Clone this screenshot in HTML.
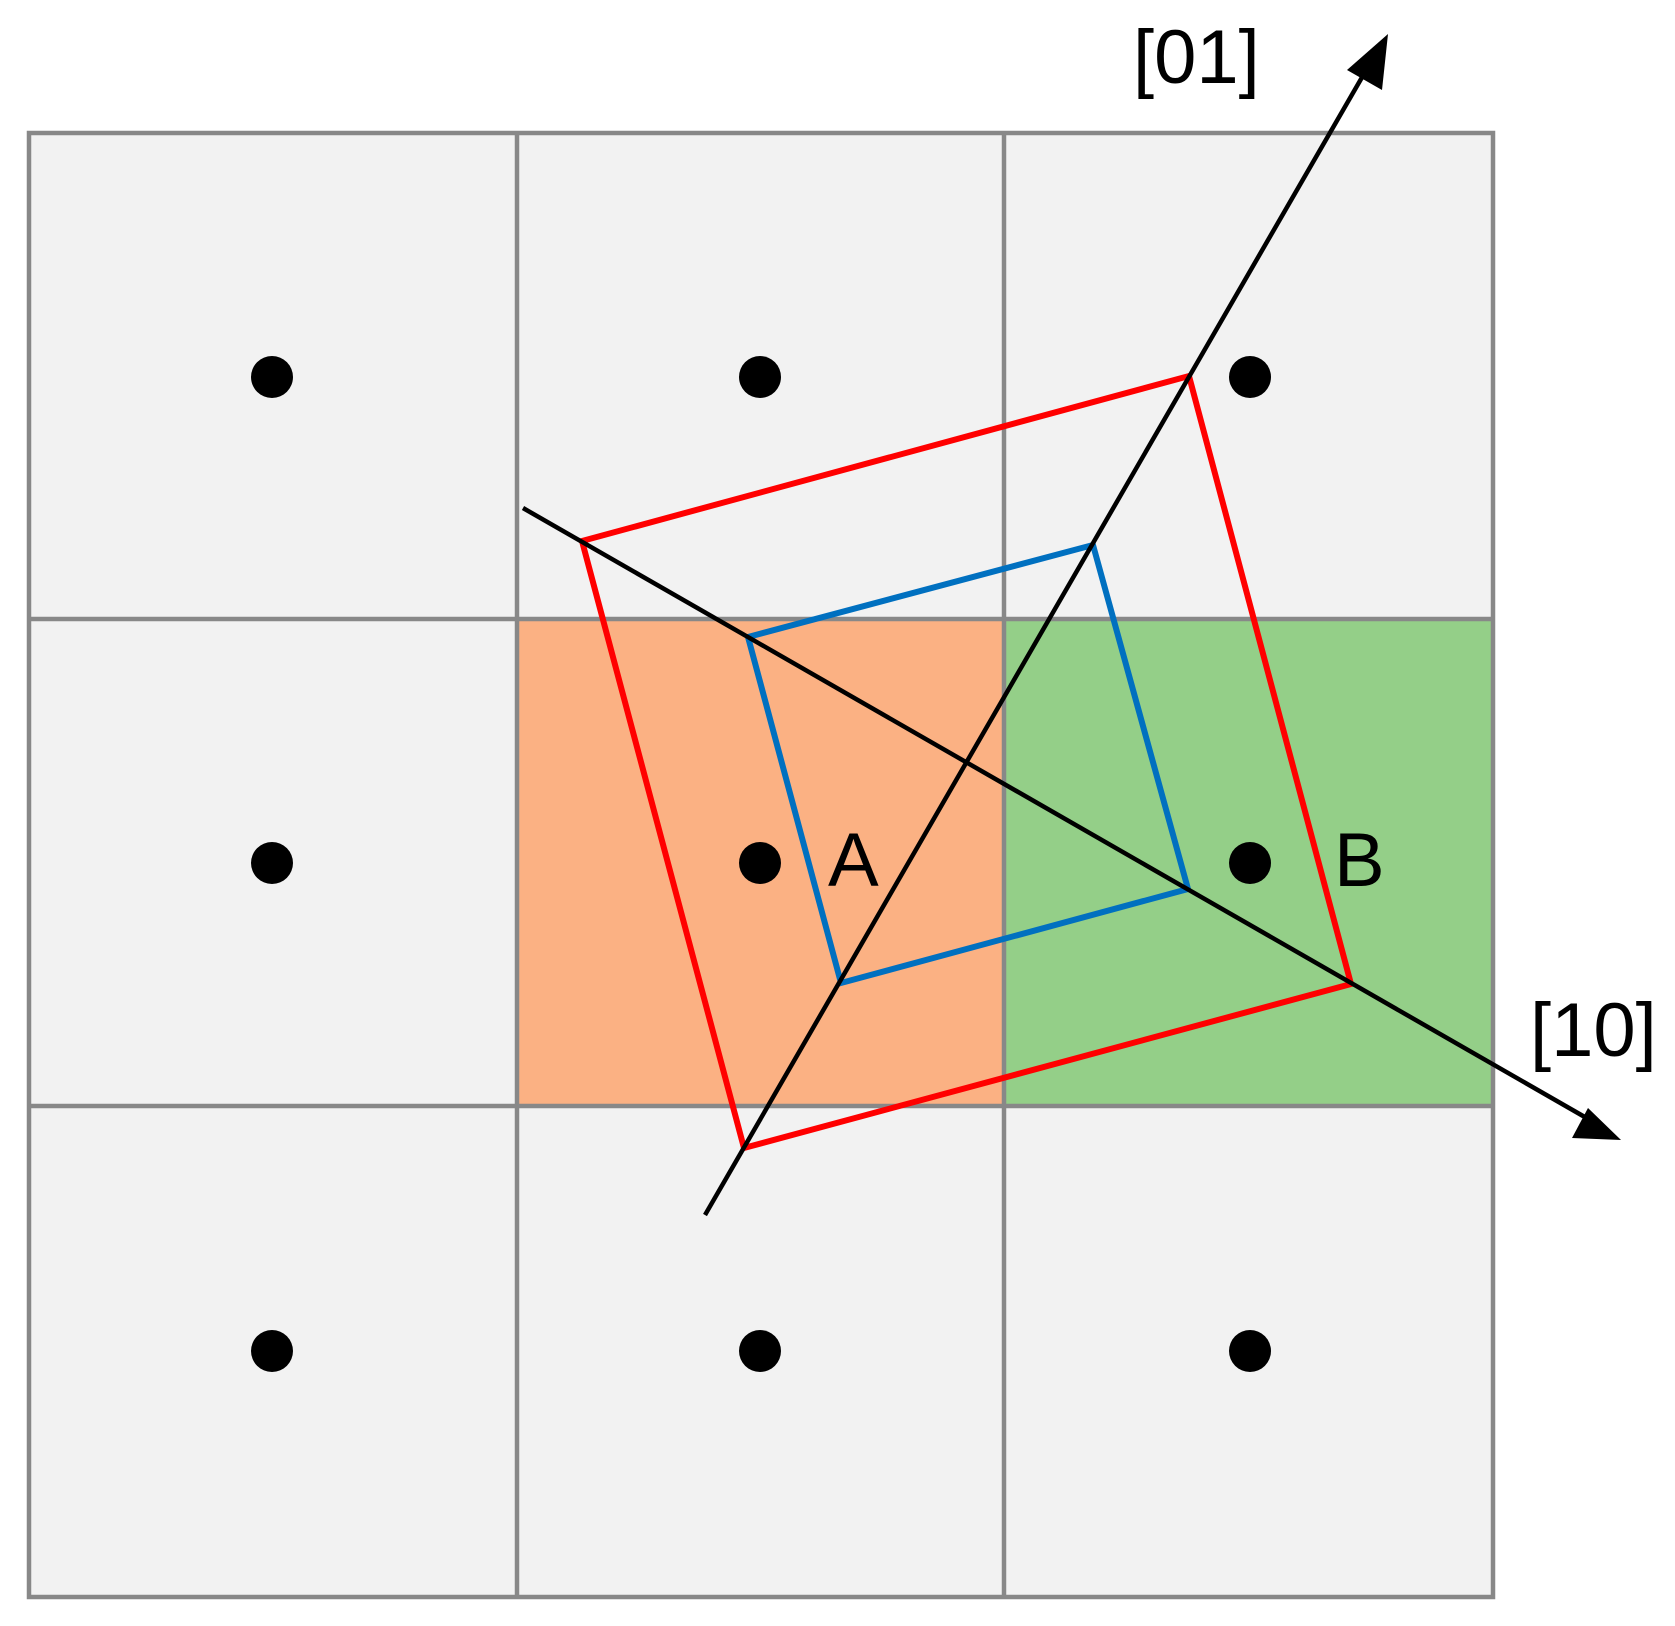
<!DOCTYPE html>
<html><head><style>body{margin:0;background:#fff}svg{display:block}</style></head>
<body>
<svg width="1675" height="1626" viewBox="0 0 1675 1626" xmlns="http://www.w3.org/2000/svg">
<rect x="29" y="133" width="1464" height="1464" fill="#f2f2f2"/>
<rect x="517" y="619" width="487" height="487" fill="#fbb183"/>
<rect x="1004" y="619" width="489" height="487" fill="#94cf88"/>
<g stroke="#888" stroke-width="4.5" fill="none">
<rect x="29" y="133" width="1464" height="1464"/>
<line x1="517" y1="133" x2="517" y2="1597"/>
<line x1="1004" y1="133" x2="1004" y2="1597"/>
<line x1="29" y1="619" x2="1493" y2="619"/>
<line x1="29" y1="1106" x2="1493" y2="1106"/>
</g>
<g fill="#000">
<circle cx="272" cy="377" r="21"/><circle cx="760" cy="377" r="21"/><circle cx="1250" cy="377" r="21"/>
<circle cx="272" cy="863" r="21"/><circle cx="760" cy="863" r="21"/><circle cx="1250" cy="863" r="21"/>
<circle cx="272" cy="1351" r="21"/><circle cx="760" cy="1351" r="21"/><circle cx="1250" cy="1351" r="21"/>
</g>
<polygon points="582,541 1189,376 1351,984 744,1148" fill="none" stroke="#ff0000" stroke-width="6"/>
<polygon points="748,637 1093,545 1188,889 841,983" fill="none" stroke="#0070c0" stroke-width="6"/>
<g stroke="#000" stroke-width="4.5">
<line x1="523" y1="508" x2="1590" y2="1120"/>
<line x1="705" y1="1215" x2="1372" y2="60"/>
</g>
<polygon points="1621,1140 1572,1138 1588,1108" fill="#000"/>
<polygon points="1388,34 1382,90 1347,70" fill="#000"/>
<g font-family="Liberation Sans, sans-serif" font-size="76" fill="#000">
<text x="1133" y="83">[01]</text>
<text x="1530" y="1056">[10]</text>
<text x="828" y="886">A</text>
<text x="1334" y="886">B</text>
</g>
</svg>
</body></html>
